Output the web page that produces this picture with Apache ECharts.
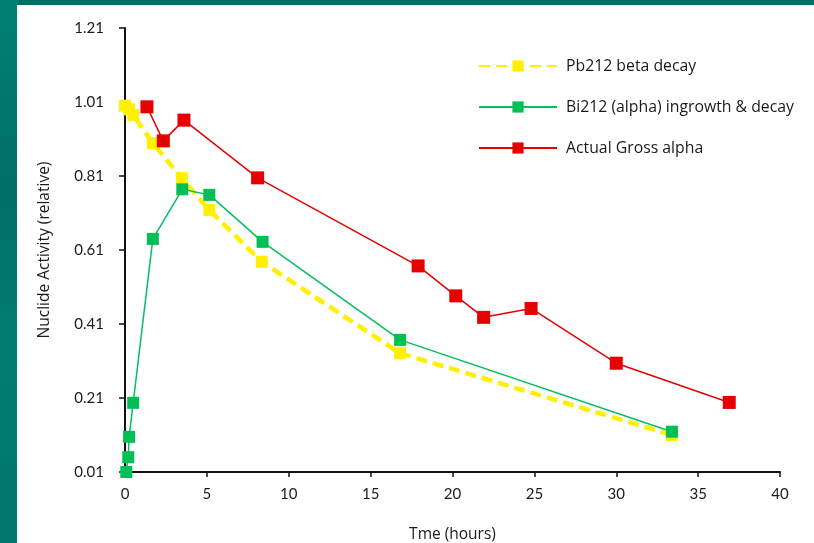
<!DOCTYPE html>
<html>
<head>
<meta charset="utf-8">
<script src="https://cdn.jsdelivr.net/npm/echarts@6/dist/echarts.min.js"></script>
<style>
  html, body { margin: 0; padding: 0; background: #ffffff; }
  #chart { width: 814px; height: 543px; }
</style>
</head>
<body>
<div id="chart"></div>
<script>
// Time after separation (hours) and relative activity for each nuclide curve
const pbHours = [0, 0.25, 0.5, 1.7, 3.47, 5.15, 8.35, 16.8, 33.4];
const pbActivity = [1.0, 0.99, 0.975, 0.899, 0.804, 0.718, 0.578, 0.331, 0.11];

const biHours = [0.08, 0.2, 0.25, 0.5, 1.7, 3.5, 5.15, 8.4, 16.8, 33.4];
const biActivity = [0.01, 0.05, 0.105, 0.197, 0.64, 0.774, 0.759, 0.632, 0.367, 0.119];

const grossHours = [1.34, 2.34, 3.6, 8.1, 17.9, 20.2, 21.9, 24.8, 30.0, 36.9];
const grossActivity = [0.997, 0.905, 0.961, 0.805, 0.567, 0.486, 0.428, 0.452, 0.304, 0.198];

const seriesNames = ['Pb212 beta decay', 'Bi212 (alpha) ingrowth & decay', 'Actual Gross alpha'];

const pair = (xs, ys) => xs.map((x, i) => [x, ys[i]]);

const TEXT_FONT = 'Open Sans';
const NUM_FONT = '"Liberation Sans Narrow", Lato, sans-serif';
const chart = echarts.init(document.getElementById('chart'), null, { renderer: 'canvas' });

chart.setOption({
  backgroundColor: '#ffffff',
  animation: false,
  graphic: [
    {
      type: 'rect', left: 0, top: 0, z: -10,
      shape: { width: 814, height: 5 },
      style: { fill: '#006e66' }
    },
    {
      type: 'rect', left: 0, top: 0, z: -10,
      shape: { width: 17, height: 543 },
      style: {
        fill: new echarts.graphic.LinearGradient(0, 0, 0, 1, [
          { offset: 0, color: '#008072' },
          { offset: 0.35, color: '#006f66' },
          { offset: 0.6, color: '#007c6f' },
          { offset: 1, color: '#00786c' }
        ])
      }
    }
  ],
  grid: { left: 125, right: 34, top: 28, bottom: 71, containLabel: false, outerBoundsMode: 'none' },
  legend: {
    orient: 'vertical',
    left: 473,
    top: 53,
    itemWidth: 78,
    itemHeight: 14,
    itemGap: 25,
    textStyle: { fontFamily: TEXT_FONT, fontSize: 15.8, color: '#1a1a1a', padding: [0, 0, 0, 4] },
    data: seriesNames
  },
  xAxis: {
    type: 'value',
    min: 0, max: 40, interval: 5,
    name: 'Tme (hours)',
    nameLocation: 'middle',
    nameGap: 55,
    nameTextStyle: { fontFamily: TEXT_FONT, fontSize: 15.5, color: '#1a1a1a' },
    axisLine: { show: true, onZero: false, lineStyle: { color: '#111', width: 2 } },
    axisTick: { show: true, inside: false, length: 5, lineStyle: { color: '#111', width: 1.5 } },
    axisLabel: { fontFamily: NUM_FONT, fontSize: 15, color: '#1a1a1a', margin: 15 },
    splitLine: { show: false }
  },
  yAxis: {
    type: 'value',
    min: 0.01, max: 1.21, interval: 0.2,
    name: 'Nuclide Activity (relative)',
    nameLocation: 'middle',
    nameGap: 72,
    nameRotate: 90,
    nameTextStyle: { fontFamily: TEXT_FONT, fontSize: 15.5, color: '#1a1a1a' },
    axisLine: { show: true, lineStyle: { color: '#111', width: 2 } },
    axisTick: { show: true, inside: false, length: 6, lineStyle: { color: '#111', width: 1.5 } },
    axisLabel: {
      fontFamily: NUM_FONT, fontSize: 15, color: '#1a1a1a', margin: 21,
      formatter: v => v.toFixed(2)
    },
    splitLine: { show: false }
  },
  series: [
    {
      name: seriesNames[0],
      type: 'line',
      data: pair(pbHours, pbActivity),
      symbol: 'rect',
      symbolSize: 12,
      z: 2,
      itemStyle: { color: '#fff000' },
      lineStyle: { color: '#fff000', width: 4.5, type: [11, 6] }
    },
    {
      name: seriesNames[1],
      type: 'line',
      data: pair(biHours, biActivity),
      symbol: 'rect',
      symbolSize: 12,
      z: 3,
      itemStyle: { color: '#00bf55' },
      lineStyle: { color: '#00c060', width: 1.5 }
    },
    {
      name: seriesNames[2],
      type: 'line',
      data: pair(grossHours, grossActivity),
      symbol: 'rect',
      symbolSize: 13,
      z: 4,
      itemStyle: { color: '#e60000' },
      lineStyle: { color: '#e60000', width: 1.5 }
    }
  ]
});
</script>
</body>
</html>
